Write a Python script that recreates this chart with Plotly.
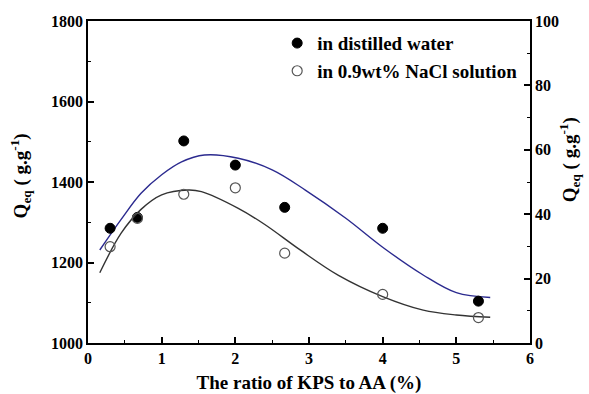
import plotly.graph_objects as go

# Measured data
ratio = [0.3, 0.67, 1.3, 2.0, 2.67, 4.0, 5.3]
q_water = [1285, 1312, 1502, 1442, 1337, 1285, 1104]
q_nacl = [29.9, 38.7, 46.2, 48.2, 27.9, 15.1, 7.9]

# Fitted curves
fit_water_x = [0.16, 0.45, 0.72, 1.0, 1.27, 1.58, 2.04, 2.5, 2.95, 3.5, 4.0, 4.55, 5.0, 5.46]
fit_water_y = [1231, 1307, 1372, 1418, 1450, 1467, 1459, 1430, 1380, 1310, 1238, 1169, 1125, 1113]
fit_nacl_x = [0.16, 0.45, 0.72, 1.0, 1.36, 1.54, 2.04, 2.4, 2.88, 3.4, 4.0, 4.55, 5.0, 5.46]
fit_nacl_y = [21.8, 34.1, 41.5, 46.0, 47.5, 47.0, 41.8, 36.8, 28.9, 21.0, 14.4, 10.2, 8.7, 8.0]

y_title = "Q<sub>eq</sub> ( g.g<sup>-1</sup>)"

FONT = "Liberation Serif"
tick_font = dict(family=FONT, size=16, color="black", weight="bold")
title_font = dict(family=FONT, size=19, color="black", weight="bold")
legend_font = dict(family=FONT, size=19, color="black", weight="bold")

fig = go.Figure()
fig.add_trace(go.Scatter(x=fit_water_x, y=fit_water_y, mode="lines",
                         line=dict(color="#2b2a8f", width=1.4, shape="spline", smoothing=1.0),
                         showlegend=False, yaxis="y"))
fig.add_trace(go.Scatter(x=fit_nacl_x, y=fit_nacl_y, mode="lines",
                         line=dict(color="#333333", width=1.4, shape="spline", smoothing=1.0),
                         showlegend=False, yaxis="y2"))
fig.add_trace(go.Scatter(x=ratio, y=q_water, mode="markers", name="in distilled water",
                         marker=dict(symbol="circle", size=10, color="black",
                                     line=dict(color="black", width=1)), yaxis="y"))
fig.add_trace(go.Scatter(x=ratio, y=q_nacl, mode="markers", name="in 0.9wt% NaCl solution",
                         marker=dict(symbol="circle-open", size=10, color="#555555",
                                     line=dict(width=1.2)), yaxis="y2"))

axis_common = dict(showline=True, linecolor="black", linewidth=1.8, ticks="inside",
                   ticklen=6, tickwidth=1.5, tickcolor="black", showgrid=False,
                   zeroline=False, tickfont=tick_font, automargin=False)
minor_common = dict(ticks="inside", ticklen=3, tickwidth=1.2, tickcolor="black")

fig.update_layout(
    width=589, height=394,
    margin=dict(l=88, r=59, t=21, b=51, autoexpand=False),
    paper_bgcolor="white", plot_bgcolor="white",
    showlegend=True,
    legend=dict(x=0.428, y=0.99, xanchor="left", yanchor="top", font=legend_font,
                bgcolor="rgba(0,0,0,0)", tracegroupgap=0),
    xaxis=dict(range=[0, 6], dtick=1, mirror=True,
               minor=dict(dtick=0.5, **minor_common),
               title=dict(text="The ratio of KPS to AA (%)", font=title_font, standoff=14),
               **axis_common),
    yaxis=dict(range=[1000, 1800], dtick=200, mirror=True,
               minor=dict(dtick=100, **minor_common), **axis_common),
    yaxis2=dict(range=[0, 100], dtick=20, overlaying="y", side="right",
                minor=dict(dtick=10, **minor_common), **axis_common),
    annotations=[
        dict(text=y_title, textangle=-90, xref="paper", yref="paper",
             x=-0.152, y=0.52, xanchor="center", yanchor="middle",
             showarrow=False, font=title_font),
        dict(text=y_title, textangle=-90, xref="paper", yref="paper",
             x=1.09, y=0.57, xanchor="center", yanchor="middle",
             showarrow=False, font=title_font),
    ],
)

fig.write_html("out.html")
